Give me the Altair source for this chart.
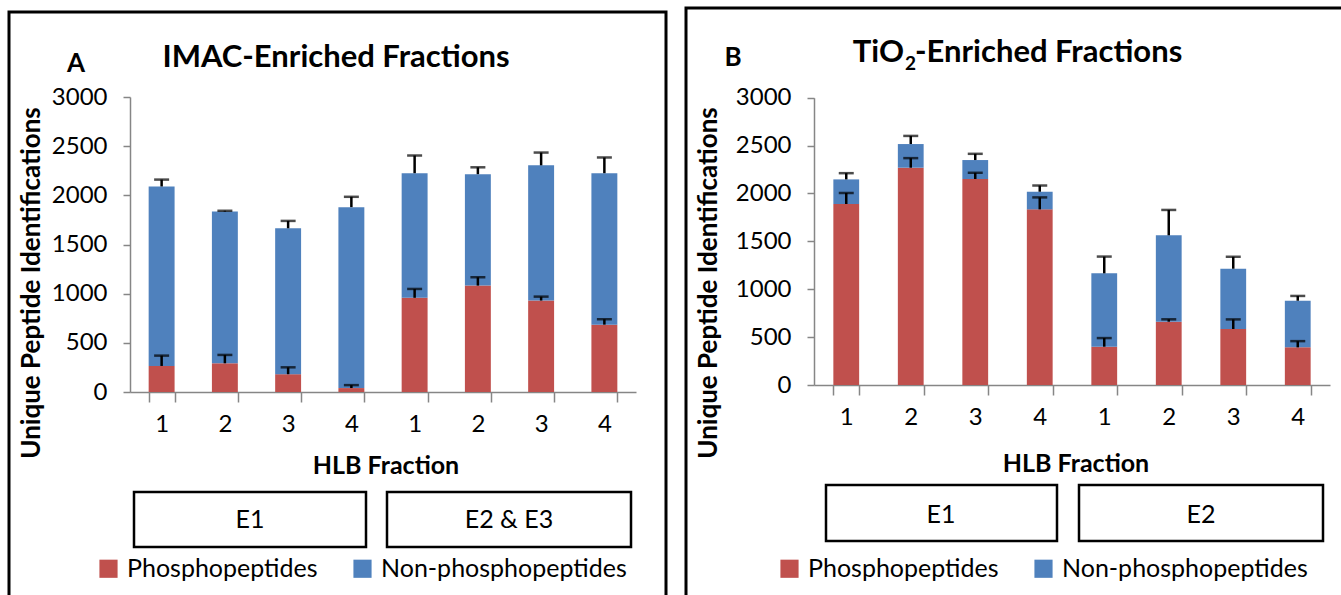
import altair as alt
import pandas as pd

# ---------------- data ----------------
fractions = ["1", "2", "3", "4", "1", "2", "3", "4"]
groups_a = ["E1", "E1", "E1", "E1", "E2 & E3", "E2 & E3", "E2 & E3", "E2 & E3"]
groups_b = ["E1", "E1", "E1", "E1", "E2", "E2", "E2", "E2"]
series = ["Phosphopeptides", "Non-phosphopeptides"]
colors = ["#C0504D", "#4F81BD"]

# Panel A: IMAC-enriched fractions
phos_a = [265, 292, 181, 40, 958, 1082, 930, 685]
phos_err_a = [105, 85, 70, 30, 90, 85, 40, 55]
non_a = [1825, 1543, 1484, 1840, 1267, 1133, 1375, 1540]
total_err_a = [70, 8, 75, 105, 180, 70, 130, 160]

# Panel B: TiO2-enriched fractions
phos_b = [1890, 2269, 2151, 1834, 400, 661, 585, 393]
phos_err_b = [115, 100, 65, 125, 90, 25, 100, 65]
non_b = [257, 247, 198, 184, 766, 902, 629, 487]
total_err_b = [65, 85, 65, 65, 175, 265, 125, 50]

y_ticks = [0, 500, 1000, 1500, 2000, 2500, 3000]

FONT = "Lato"
GRAY = "#868686"


def frames(groups, phos, phos_err, non, total_err):
    keys = [f"{g}|{f}" for g, f in zip(groups, fractions)]
    bars, errs = [], []
    for k, p, pe, n, te in zip(keys, phos, phos_err, non, total_err):
        bars.append({"key": k, "series": series[0], "base": 0, "top": p})
        bars.append({"key": k, "series": series[1], "base": p, "top": p + n})
        errs.append({"key": k, "lo": p, "hi": p + pe})
        errs.append({"key": k, "lo": p + n, "hi": p + n + te})
    return keys, pd.DataFrame(bars), pd.DataFrame(errs)


def txt(text, x, y, size, bold=False, align="center", baseline="alphabetic", angle=0):
    kw = dict(text=text, font=FONT, fontSize=size, color="black", align=align,
              baseline=baseline, fontWeight="bold" if bold else "normal")
    if angle:
        kw["angle"] = angle
    return alt.Chart(pd.DataFrame({"t": [text]})).mark_text(**kw).encode(
        x=alt.value(x), y=alt.value(y))


def box(x0, x1, y0, y1, width):
    return alt.Chart(pd.DataFrame({"b": [0]})).mark_rect(
        fillOpacity=0, stroke="black", strokeWidth=width).encode(
        x=alt.value(x0), x2=alt.value(x1), y=alt.value(y0), y2=alt.value(y1))


def panel(groups, phos, phos_err, non, total_err, xr, yr, pad_in, legend_x, legend_y):
    keys, bars_df, err_df = frames(groups, phos, phos_err, non, total_err)
    xaxis = alt.Axis(orient="bottom", offset=yr[0] - 595, title=None, grid=False,
                     labelExpr="split(datum.value, '|')[1]", labelAngle=0,
                     labelFont=FONT, labelFontSize=24, labelColor="black",
                     labelPadding=10, tickBand="extent", tickSize=10,
                     tickColor=GRAY, tickWidth=1.5, domainColor=GRAY, domainWidth=1.5)
    yaxis = alt.Axis(orient="left", offset=-xr[0], title=None, grid=False,
                     values=y_ticks, format="d", labelFont=FONT, labelFontSize=24,
                     labelColor="black", labelPadding=16, tickSize=7,
                     tickColor=GRAY, tickWidth=1.5, domainColor=GRAY, domainWidth=1.5)
    xs = alt.Scale(domain=keys, range=list(xr), paddingInner=pad_in, paddingOuter=pad_in / 2)
    ys = alt.Scale(domain=[0, 3000], range=list(yr), nice=False, zero=True)

    bars = alt.Chart(bars_df).mark_bar().encode(
        x=alt.X("key:N", scale=xs, axis=xaxis),
        y=alt.Y("base:Q", scale=ys, axis=yaxis),
        y2="top:Q",
        color=alt.Color("series:N",
                        scale=alt.Scale(domain=series, range=colors),
                        legend=alt.Legend(orient="none", legendX=legend_x, legendY=legend_y,
                                          direction="horizontal", title=None,
                                          symbolType="square", symbolSize=330,
                                          symbolStrokeWidth=0, labelFont=FONT,
                                          labelFontSize=25, labelColor="black",
                                          labelLimit=1000,
                                          labelOffset=6, columnPadding=32, padding=0)),
    )
    rules = alt.Chart(err_df).mark_rule(color="black", strokeWidth=2.5).encode(
        x=alt.X("key:N", scale=xs, axis=xaxis),
        y=alt.Y("lo:Q", scale=ys, axis=yaxis),
        y2="hi:Q",
    )
    caps = alt.Chart(err_df).mark_tick(color="black", thickness=2.5, size=15).encode(
        x=alt.X("key:N", scale=xs, axis=xaxis),
        y=alt.Y("hi:Q", scale=ys, axis=yaxis),
    )
    return [bars, rules, caps]


# ---------------- panel A ----------------
layers_a = [box(9, 666, 12, 640, 3)]
layers_a += panel(groups_a, phos_a, phos_err_a, non_a, total_err_a,
                  (130, 636), (392, 97), 0.59, 96, 556)
layers_a += [
    txt("A", 76, 72, 26, bold=True),
    txt("IMAC-Enriched Fractions", 336, 67, 31, bold=True),
    txt("Unique Peptide Identifications", 40, 283, 26, bold=True, angle=270),
    txt("HLB Fraction", 386, 474, 25, bold=True),
    box(134, 366, 492, 547, 2.5),
    box(387, 631, 492, 547, 2.5),
    txt("E1", 250, 528, 25),
    txt("E2 & E3", 509, 528, 25),
]
panel_a = alt.layer(*layers_a)

# ---------------- panel B ----------------
layers_b = [box(686, 1360, 8, 640, 3)]
layers_b += panel(groups_b, phos_b, phos_err_b, non_b, total_err_b,
                  (814, 1330), (385, 97.7), 0.6, 777, 556)
layers_b += [
    txt("B", 733, 66, 26, bold=True),
    txt("TiO", 904, 62, 31, bold=True, align="right"),
    txt("2", 905, 70, 19, bold=True, align="left"),
    txt("-Enriched Fractions", 915, 62, 31, bold=True, align="left"),
    txt("Unique Peptide Identifications", 717, 283, 26, bold=True, angle=270),
    txt("HLB Fraction", 1076, 472, 25, bold=True),
    box(826, 1057, 485, 541, 2.5),
    box(1079, 1323, 485, 541, 2.5),
    txt("E1", 941, 523, 25),
    txt("E2", 1201, 523, 25),
]
panel_b = alt.layer(*layers_b)

chart = alt.layer(panel_a, panel_b).resolve_scale(
    x="independent", y="independent", color="independent"
).properties(
    width=1341, height=595, padding=0,
    autosize=alt.AutoSizeParams(type="none"),
    background="white",
).configure_view(stroke=None)

chart.save("out.html", embed_options={"renderer": "svg", "actions": False})
